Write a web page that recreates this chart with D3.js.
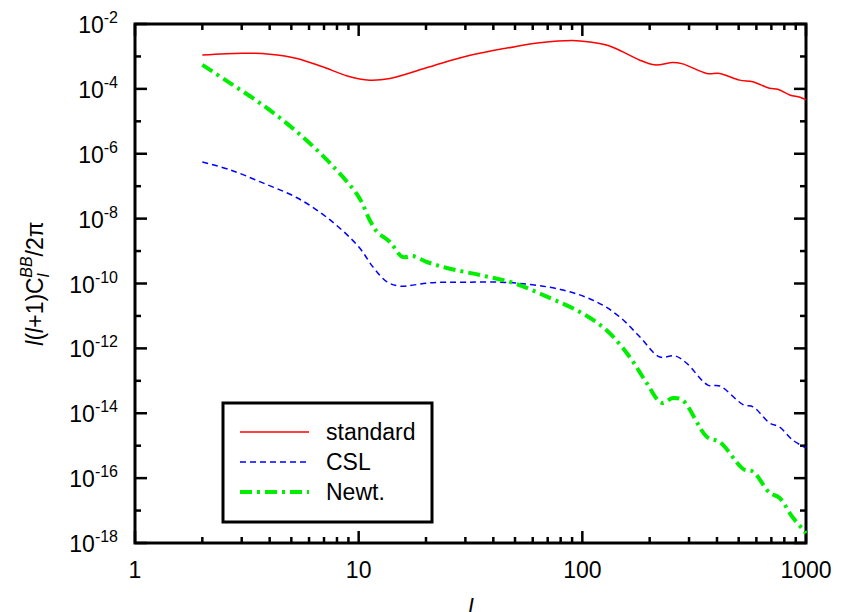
<!DOCTYPE html>
<html>
<head>
<meta charset="utf-8">
<script src="https://cdn.jsdelivr.net/npm/d3@7"></script>
<style>
  body { margin: 0; background: #fff; }
  svg text { font-family: "Liberation Sans", Arial, sans-serif; }
</style>
</head>
<body>
<div id="chart"></div>
<script>
// multipole l and l(l+1)C_l^BB/2pi
var ellStd = [2, 3, 4, 5.3, 6.9, 8.9, 11.2, 13.8, 20.8, 30, 50, 64.5, 90, 108, 128, 151, 180, 211, 254, 281, 360, 412, 505, 578, 686, 748, 846, 940, 1000];
var valStd = [1.1e-3, 1.26e-3, 1.17e-3, 8.7e-4, 4.8e-4, 2.5e-4, 1.86e-4, 2.1e-4, 4.8e-4, 1.0e-3, 2.0e-3, 2.63e-3, 3.1e-3, 2.8e-3, 2.24e-3, 1.41e-3, 7.8e-4, 5.5e-4, 6.5e-4, 5.9e-4, 3.0e-4, 3.0e-4, 1.86e-4, 1.66e-4, 1.05e-4, 9.8e-5, 6.5e-5, 5.5e-5, 4.6e-5];

var ellCsl = [2, 2.66, 3.73, 5.3, 7.45, 10, 11.6, 13.4, 15.3, 20.8, 30, 49, 82, 116, 147, 181, 222, 259, 292, 364, 412, 525, 580, 688, 760, 870, 1000];
var valCsl = [5.6e-7, 3.2e-7, 1.26e-7, 4.4e-8, 9.1e-9, 1.35e-9, 3.2e-10, 1.12e-10, 8.3e-11, 1.05e-10, 1.1e-10, 1.05e-10, 6.3e-11, 2.7e-11, 9.3e-12, 2.24e-12, 5.4e-13, 5.9e-13, 3.55e-13, 7.4e-14, 6.9e-14, 1.82e-14, 1.58e-14, 5.0e-15, 3.8e-15, 1.51e-15, 8.5e-16];

var ellNewt = [2, 2.66, 3.73, 5.3, 7.45, 10, 11.2, 12.1, 13.8, 15.7, 17.5, 20.2, 24.8, 34.9, 49, 69, 97.5, 128, 163, 194, 226, 254, 281, 361, 412, 525, 580, 688, 760, 870, 975, 1000];
var valNewt = [5.5e-4, 1.51e-4, 3.16e-5, 4.7e-6, 5.1e-7, 4.7e-8, 9.1e-9, 3.9e-9, 1.9e-9, 6.6e-10, 7.0e-10, 4.6e-10, 3.0e-10, 1.82e-10, 1.05e-10, 4.0e-11, 1.32e-11, 3.7e-12, 5.4e-13, 8.5e-14, 2.1e-14, 2.95e-14, 2.5e-14, 1.86e-15, 1.29e-15, 1.9e-16, 1.58e-16, 3.5e-17, 2.5e-17, 6.3e-18, 2.5e-18, 2.0e-18];

var seriesNames = ["standard", "CSL", "Newt."];
var xTickLabels = ["1", "10", "100", "1000"];
var yLabelExps = [-2, -4, -6, -8, -10, -12, -14, -16, -18];

var W = 841, H = 612;
var L = 135, R = 806, T = 24, B = 543;

var svg = d3.select("#chart").append("svg")
    .attr("width", W)
    .attr("height", H);

var x = d3.scaleLog().domain([1, 1000]).range([L, R]);
var y = d3.scaleLog().domain([1e-18, 1e-2]).range([B, T]);

// ticks: majors at decades, minors in between
var xMajor = [1, 10, 100, 1000];
var xMinor = [];
for (var d = 1; d < 1000; d *= 10) {
    for (var k = 2; k <= 9; k++) xMinor.push(d * k);
}
var yAll = [];
for (var e = -18; e <= -2; e++) yAll.push(Math.pow(10, e));

function tickLines(g, vals, len, side) {
    vals.forEach(function (v) {
        var ln = g.append("line").attr("stroke", "#000").attr("stroke-width", 2.5);
        if (side == "bottom") ln.attr("x1", x(v)).attr("x2", x(v)).attr("y1", B).attr("y2", B - len);
        if (side == "top") ln.attr("x1", x(v)).attr("x2", x(v)).attr("y1", T).attr("y2", T + len);
        if (side == "left") ln.attr("y1", y(v)).attr("y2", y(v)).attr("x1", L).attr("x2", L + len);
        if (side == "right") ln.attr("y1", y(v)).attr("y2", y(v)).attr("x1", R).attr("x2", R - len);
    });
}

var axes = svg.append("g");
["bottom", "top"].forEach(function (s) {
    tickLines(axes, xMajor, 12, s);
    tickLines(axes, xMinor, 6, s);
});
["left", "right"].forEach(function (s) {
    yAll.forEach(function (v, i) {
        tickLines(axes, [v], i % 2 == 0 ? 12 : 6, s);
    });
});

// x tick labels
axes.selectAll("text.xl").data(xMajor).enter().append("text")
    .attr("class", "xl")
    .attr("x", function (v) { return x(v); })
    .attr("y", 578)
    .attr("text-anchor", "middle")
    .attr("font-size", 23)
    .text(function (v, i) { return xTickLabels[i]; });

// y tick labels 10^n
var yl = axes.selectAll("text.yl").data(yLabelExps).enter().append("text")
    .attr("class", "yl")
    .attr("x", 118)
    .attr("y", function (n) { return y(Math.pow(10, n)) + 9; })
    .attr("text-anchor", "end")
    .attr("font-size", 23);
yl.append("tspan").text("10");
yl.append("tspan").attr("dy", -10).attr("font-size", 16).text(function (n) { return "-" + Math.abs(n); });

// frame
svg.append("rect")
    .attr("x", L).attr("y", T)
    .attr("width", R - L).attr("height", B - T)
    .attr("fill", "none")
    .attr("stroke", "#000")
    .attr("stroke-width", 3);

// curves
var line = d3.line()
    .x(function (p) { return x(p[0]); })
    .y(function (p) { return y(p[1]); })
    .curve(d3.curveCatmullRom.alpha(0.5));

var styles = [
    { color: "#ff0000", width: 1.5, dash: null },
    { color: "#0000ff", width: 1.5, dash: "6,4" },
    { color: "#00ee00", width: 4, dash: "12,5,3,5" }
];
var series = [
    d3.zip(ellStd, valStd),
    d3.zip(ellCsl, valCsl),
    d3.zip(ellNewt, valNewt)
];

series.forEach(function (s, i) {
    svg.append("path")
        .attr("d", line(s))
        .attr("fill", "none")
        .attr("stroke", styles[i].color)
        .attr("stroke-width", styles[i].width)
        .attr("stroke-dasharray", styles[i].dash);
});

// legend
var leg = svg.append("g");
leg.append("rect")
    .attr("x", 223).attr("y", 403)
    .attr("width", 209).attr("height", 119)
    .attr("fill", "#fff")
    .attr("stroke", "#000")
    .attr("stroke-width", 3);
seriesNames.forEach(function (name, i) {
    var yy = 432 + i * 30;
    leg.append("line")
        .attr("x1", 240).attr("x2", 309)
        .attr("y1", yy).attr("y2", yy)
        .attr("stroke", styles[i].color)
        .attr("stroke-width", styles[i].width)
        .attr("stroke-dasharray", styles[i].dash);
    leg.append("text")
        .attr("x", 326).attr("y", yy + 8)
        .attr("font-size", 23)
        .text(name);
});

// axis titles
svg.append("text")
    .attr("x", (L + R) / 2).attr("y", 616)
    .attr("text-anchor", "middle")
    .attr("font-size", 23)
    .attr("font-style", "italic")
    .text("l");

var yt = svg.append("text")
    .attr("transform", "translate(43," + ((T + B) / 2) + ") rotate(-90)")
    .attr("text-anchor", "middle")
    .attr("font-size", 23);
yt.append("tspan").attr("font-style", "italic").text("l");
yt.append("tspan").text("(");
yt.append("tspan").attr("font-style", "italic").text("l");
yt.append("tspan").text("+1)C");
yt.append("tspan").attr("font-style", "italic").attr("font-size", 16).attr("dy", 6).text("l");
yt.append("tspan").attr("font-style", "italic").attr("font-size", 16).attr("dx", -4).attr("dy", -17).text("BB");
yt.append("tspan").attr("dy", 11).text("/2π");
</script>
</body>
</html>
